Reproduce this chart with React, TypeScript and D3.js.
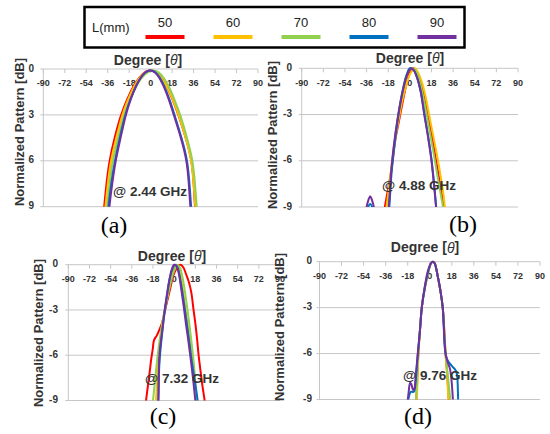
import React from "react";
import * as d3 from "d3";

type Pt = [number, number];

const lengths = ["50", "60", "70", "80", "90"];
const xTickValues = [-90, -72, -54, -36, -18, 0, 18, 36, 54, 72, 90];
const yTickValues = [0, -3, -6, -9];
const freqLabels = ["@ 2.44 GHz", "@ 4.88 GHz", "@ 7.32 GHz", "@ 9.76 GHz"];
const panelTags = ["(a)", "(b)", "(c)", "(d)"];

// (a) 2.44 GHz
const a50: Pt[] = [[-40.5,-10.5],[-39,-9],[-37.1,-7.5],[-34.7,-6],[-30.3,-4.5],[-25,-3],[-20,-2],[-13.8,-1],[-7.5,-0.3],[0,0],[7,-0.3],[12.8,-1],[18.6,-2],[23.3,-3],[29.6,-4.5],[34.7,-6],[36.1,-7.5],[37.2,-9],[38.2,-10.5]];
const a60: Pt[] = [[-39.5,-10.5],[-38,-9],[-36,-7.5],[-33.5,-6],[-28.8,-4.5],[-24,-3],[-19.2,-2],[-13.2,-1],[-7.2,-0.3],[0,0],[7,-0.3],[12.9,-1],[18.8,-2],[23.5,-3],[29.5,-4.5],[34.5,-6],[36,-7.5],[37.5,-9],[38.6,-10.5]];
const a70: Pt[] = [[-38,-10.5],[-36.5,-9],[-34.5,-7.5],[-32,-6],[-27.2,-4.5],[-22.5,-3],[-17.6,-2],[-11.5,-1],[-5,-0.3],[2,0],[9,-0.3],[14.6,-1],[20,-2],[25,-3],[30.5,-4.5],[35.5,-6],[37.2,-7.5],[38.7,-9],[39.8,-10.5]];
const a80: Pt[] = [[-37,-10.5],[-35.5,-9],[-33.2,-7.5],[-30,-6],[-26,-4.5],[-21.5,-3],[-17.2,-2],[-11.8,-1],[-6.5,-0.3],[0,0],[6,-0.3],[11,-1],[16,-2],[20,-3],[26,-4.5],[31,-6],[32.6,-7.5],[34,-9],[35.2,-10.5]];
const a90: Pt[] = [[-36.3,-10.5],[-34.7,-9],[-32.3,-7.5],[-29.5,-6],[-25.2,-4.5],[-21,-3],[-17,-2],[-11.8,-1],[-6.5,-0.3],[-0.5,0],[5.5,-0.3],[10.5,-1],[15.4,-2],[19.4,-3],[25.5,-4.5],[30.5,-6],[32,-7.5],[33.3,-9],[34.4,-10.5]];

// (b) 4.88 GHz
const b50: Pt[] = [[-24,-11],[-21,-9.1],[-18,-7.8],[-15,-6.4],[-12,-4.6],[-9,-3.4],[-6,-2.2],[-3,-1.1],[0,-0.3],[3,0],[6,-0.3],[9,-0.9],[12,-1.9],[15,-3.0],[18,-4.2],[21,-5.6],[24,-7.0],[27,-8.4],[29,-9.5],[32,-11]];
const b60: Pt[] = [[-24,-12],[-21,-10],[-18,-8.1],[-15,-6.2],[-12,-4.5],[-9,-3.2],[-6,-2.0],[-3,-1.1],[0,-0.4],[4,0],[7,-0.3],[10,-0.9],[13,-1.8],[16,-3.0],[19,-4.2],[22,-5.4],[25,-6.7],[28,-8.2],[30,-9.6],[33,-11]];
const b70: Pt[] = [[-24,-13],[-21,-11],[-18,-9],[-15,-6.3],[-12,-4.3],[-9,-2.7],[-6,-1.4],[-3,-0.5],[0,-0.05],[2,0],[5,-0.2],[8,-0.8],[11,-1.8],[14,-3.0],[17,-4.3],[20,-5.6],[23,-7.0],[26,-8.3],[28,-9.2],[31,-11]];
const b80: Pt[] = [[-37,-10],[-35.5,-9.2],[-33,-8.8],[-30.5,-9.2],[-29,-10],[-22,-12],[-18,-9.8],[-15,-6.6],[-12,-4.5],[-9,-2.8],[-6,-1.5],[-3,-0.5],[0,0],[3,-0.1],[6,-0.6],[9,-1.5],[12,-2.9],[15,-4.3],[18,-5.9],[21,-8.2],[24,-11]];
const b90: Pt[] = [[-38,-10],[-36,-9],[-34.5,-8.55],[-33,-8.3],[-31.5,-8.55],[-30,-9],[-28.5,-10],[-22,-12],[-18,-9.5],[-15,-6.2],[-12,-4.2],[-9,-2.7],[-6,-1.5],[-3,-0.6],[0,-0.05],[1,0],[3,-0.1],[6,-0.6],[9,-1.5],[12,-3.0],[15,-4.4],[18,-6.0],[21,-8.3],[24,-11]];

// (c) 7.32 GHz
const c50: Pt[] = [[-26,-10.5],[-23.9,-9],[-21.1,-7.3],[-19.4,-6.2],[-18.2,-5.6],[-17.1,-5.0],[-14.8,-4.7],[-12.5,-4.3],[-10.5,-3.9],[-7.7,-3.0],[-4,-1.8],[-0.6,-0.7],[2,-0.25],[4,-0.03],[5.5,0],[8,-0.2],[10,-0.6],[12.3,-1.1],[14.5,-1.8],[16.5,-3.0],[18.2,-4.0],[19.6,-5.0],[20.8,-6.0],[22.2,-6.9],[24,-8],[25.9,-9],[28,-10.5]];
const c60: Pt[] = [[-18,-11],[-15.5,-9],[-13.5,-6.5],[-11,-4.4],[-8,-3.0],[-5,-1.8],[-2,-0.7],[0,-0.2],[2,0],[4,-0.3],[6,-1.0],[8,-2.0],[10,-3.2],[12,-4.4],[14,-5.6],[16,-6.9],[18,-8.2],[19.5,-9.2],[21,-10.5]];
const c70: Pt[] = [[-21,-11],[-18,-9],[-16,-7.5],[-14,-6],[-11,-4.3],[-8,-3.0],[-5,-1.9],[-2,-0.9],[0,-0.4],[3,0],[5,-0.2],[7,-0.8],[9,-1.7],[11,-2.8],[13,-4.0],[15,-5.3],[17,-6.8],[19,-9.0],[21,-11]];
const c80: Pt[] = [[-15,-12],[-13.5,-9.1],[-12.5,-6.5],[-10,-4.4],[-8,-3.1],[-6,-2.0],[-4,-1.0],[-2,-0.4],[0,-0.05],[1,0],[3,-0.2],[5,-0.9],[7,-1.8],[9,-2.9],[11,-4.0],[13,-5.2],[15,-6.4],[17,-7.4],[20,-9.0],[22,-10.5]];
const c90: Pt[] = [[-15,-12],[-13.5,-9.2],[-12.5,-6.0],[-10,-4.3],[-8,-3.0],[-6,-1.9],[-4,-1.0],[-2,-0.3],[0,0],[2,-0.1],[4,-0.6],[6,-1.6],[8,-2.7],[10,-3.9],[12,-5.0],[14,-6.2],[16,-7.5],[18,-9.0],[20,-10.5]];

// (d) 9.76 GHz
const d50: Pt[] = [[-12,-10.5],[-10.9,-9],[-9.3,-6],[-8,-4.5],[-6.5,-3],[-4,-1.7],[-1.5,-0.8],[1,-0.1],[2.5,0],[4,-0.1],[6.4,-0.9],[8.5,-1.8],[10.6,-3],[12.9,-6],[14.2,-7.3],[15.5,-9],[16.5,-10.5]];
const d60: Pt[] = [[-12,-10.5],[-10.6,-9],[-9.2,-6],[-8,-4.5],[-6.5,-3],[-4,-1.7],[-1.5,-0.8],[1,-0.1],[2.5,0],[4,-0.1],[6.4,-0.9],[8.5,-1.8],[10.6,-3],[12.9,-6],[14,-7.2],[15.2,-9],[16,-10.5]];
const d70: Pt[] = [[-12.5,-10.5],[-11.2,-9],[-9.4,-6],[-8,-4.5],[-6.5,-3],[-4,-1.7],[-1.5,-0.8],[1,-0.1],[2.5,0],[4,-0.1],[6.4,-0.9],[8.5,-1.8],[10.6,-3],[13,-6],[14.6,-7.3],[16.7,-9],[18,-10.5]];
const d80: Pt[] = [[-19,-10.5],[-18,-9.5],[-17,-8.8],[-15.5,-8.5],[-13,-8.5],[-11.5,-7.8],[-10,-6.3],[-8,-4.5],[-6.5,-3],[-4,-1.7],[-1.5,-0.7],[1,-0.1],[2.5,0],[4,-0.1],[6.4,-0.9],[8.5,-1.8],[10.6,-3],[12.9,-6],[15,-6.5],[18,-6.8],[21.2,-7.1],[22.3,-7.4],[23,-8.5],[23.3,-9.5],[23.6,-10.5]];
const d90: Pt[] = [[-19,-10.5],[-18.4,-9.5],[-17.2,-8.5],[-16,-7.9],[-15,-8.0],[-13.5,-8.4],[-12.5,-8.3],[-11.5,-7.5],[-10,-6.2],[-8,-4.5],[-6.5,-3],[-4,-1.6],[-1.5,-0.6],[1,-0.1],[2.5,0],[4,-0.1],[6.4,-0.9],[8.5,-1.8],[10.6,-3],[12.9,-6],[14.8,-6.6],[16.5,-7],[17.6,-7.6],[18.5,-8.5],[19,-9.2],[19.5,-10.5]];

const panelSeries: Pt[][][] = [
  [a50, a60, a70, a80, a90],
  [b50, b60, b70, b80, b90],
  [c50, c60, c70, c80, c90],
  [d50, d60, d70, d80, d90],
];

const COLORS = ["#ff0000", "#ffc000", "#92d050", "#0070c0", "#7030a0"];
const GRID = "#c6c6c6";
const TXT = "#333333";
const SANS = "'Liberation Sans', Arial, sans-serif";
const SERIF = "'Liberation Serif', 'Times New Roman', serif";

const LAYOUT = [
  { left: 43.3, right: 258, top: 69, bottom: 206.7, degX: 148, degY: 61, yTitleX: 21, yTitleY: 132, labelRight: 34, annX: 113, annY: 192, tagX: 114, tagY: 233, mask: true, smooth: true },
  { left: 301.7, right: 518, top: 68.3, bottom: 207, degX: 410, degY: 59, yTitleX: 273.5, yTitleY: 135, labelRight: 292, annX: 382, annY: 186, tagX: 463, tagY: 232, mask: false, smooth: false },
  { left: 68.3, right: 280, top: 264.7, bottom: 400.5, degX: 172, degY: 257, yTitleX: 40, yTitleY: 333, labelRight: 58, annX: 145, annY: 379, tagX: 163, tagY: 424, mask: false, smooth: false },
  { left: 319.5, right: 540, top: 261.7, bottom: 399.5, degX: 425, degY: 248.5, yTitleX: 281, yTitleY: 327, labelRight: 312, annX: 403, annY: 376, tagX: 418, tagY: 424, mask: false, smooth: false },
];

function Panel({ idx }: { idx: number }) {
  const L = LAYOUT[idx];
  const x = d3.scaleLinear().domain([-90, 90]).range([L.left, L.right]);
  const y = d3.scaleLinear().domain([0, -9]).range([L.top, L.bottom]);
  const line = d3
    .line<Pt>()
    .x((d) => x(d[0]))
    .y((d) => y(d[1]))
    .curve(L.smooth ? d3.curveBasis : d3.curveCatmullRom.alpha(0.5));
  const clipId = `clip-${idx}`;
  return (
    <g>
      <defs>
        <clipPath id={clipId}>
          <rect x={L.left} y={L.top - 2} width={L.right - L.left} height={L.bottom - L.top + 2} />
        </clipPath>
      </defs>
      {yTickValues.map((v) => (
        <line key={v} x1={L.left - 3} x2={L.right} y1={y(v)} y2={y(v)} stroke={GRID} strokeWidth={1} />
      ))}
      <line x1={L.left} x2={L.left} y1={L.top} y2={L.bottom} stroke={GRID} strokeWidth={1} />
      {xTickValues.map((v) => (
        <line key={"t" + v} x1={x(v)} x2={x(v)} y1={L.top} y2={L.top + 4} stroke={GRID} strokeWidth={1} />
      ))}
      {xTickValues.map((v) => (
        <text key={"l" + v} x={x(v)} y={L.top + 15} textAnchor="middle" dominantBaseline="middle" fontFamily={SANS} fontSize={9} fontWeight="bold" fill={TXT}>
          {v}
        </text>
      ))}
      {yTickValues.map((v) => (
        <text key={"y" + v} x={L.labelRight} y={y(v)} textAnchor="end" dominantBaseline="middle" fontFamily={SANS} fontSize={10} fontWeight="bold" fill={TXT}>
          {v}
        </text>
      ))}
      <g transform={`translate(${L.yTitleX},${L.yTitleY}) rotate(-90)`}>
        {L.mask && <rect x={-76} y={-7} width={152} height={14} fill="#fff" />}
        <text x={0} y={0} textAnchor="middle" dominantBaseline="middle" fontFamily={SANS} fontSize={13} fontWeight="bold" fill={TXT}>
          Normalized Pattern [dB]
        </text>
      </g>
      <text x={L.degX} y={L.degY} textAnchor="middle" dominantBaseline="middle" fontFamily={SANS} fontSize={14} fontWeight="bold" fill={TXT}>
        Degree [<tspan fontStyle="italic" fontWeight="normal">θ</tspan>]
      </text>
      <g clipPath={`url(#${clipId})`}>
        {panelSeries[idx].map((s, i) => (
          <path key={i} d={line(s) || ""} fill="none" stroke={COLORS[i]} strokeWidth={2} />
        ))}
      </g>
      <text x={L.annX} y={L.annY} dominantBaseline="middle" fontFamily={SANS} fontSize={13.5} fontWeight="bold" fill={TXT}>
        {freqLabels[idx]}
      </text>
      <text x={L.tagX} y={L.tagY} textAnchor="middle" fontFamily={SERIF} fontSize={24} fill="#000">
        {panelTags[idx]}
      </text>
    </g>
  );
}

function Legend() {
  const centers = d3.scaleLinear().domain([0, 4]).range([165, 437]);
  return (
    <g>
      <rect x={84.5} y={7} width={380} height={40.5} fill="#fff" stroke="#000" strokeWidth={2.5} />
      <text x={92} y={28.5} dominantBaseline="middle" fontFamily={SANS} fontSize={13} fill="#222">
        L(mm)
      </text>
      {lengths.map((l, i) => (
        <g key={l}>
          <text x={centers(i)} y={23.5} textAnchor="middle" dominantBaseline="middle" fontFamily={SANS} fontSize={13} fill="#222">
            {l}
          </text>
          <line x1={centers(i) - 19.5} x2={centers(i) + 19.5} y1={37} y2={37} stroke={COLORS[i]} strokeWidth={4} />
        </g>
      ))}
    </g>
  );
}

export default function App() {
  return (
    <svg width={550} height={434} style={{ position: "absolute", left: 0, top: 0, background: "#fff" }}>
      <rect x={0} y={0} width={550} height={434} fill="#fff" />
      {[0, 1, 2, 3].map((i) => (
        <Panel key={i} idx={i} />
      ))}
      <Legend />
    </svg>
  );
}
